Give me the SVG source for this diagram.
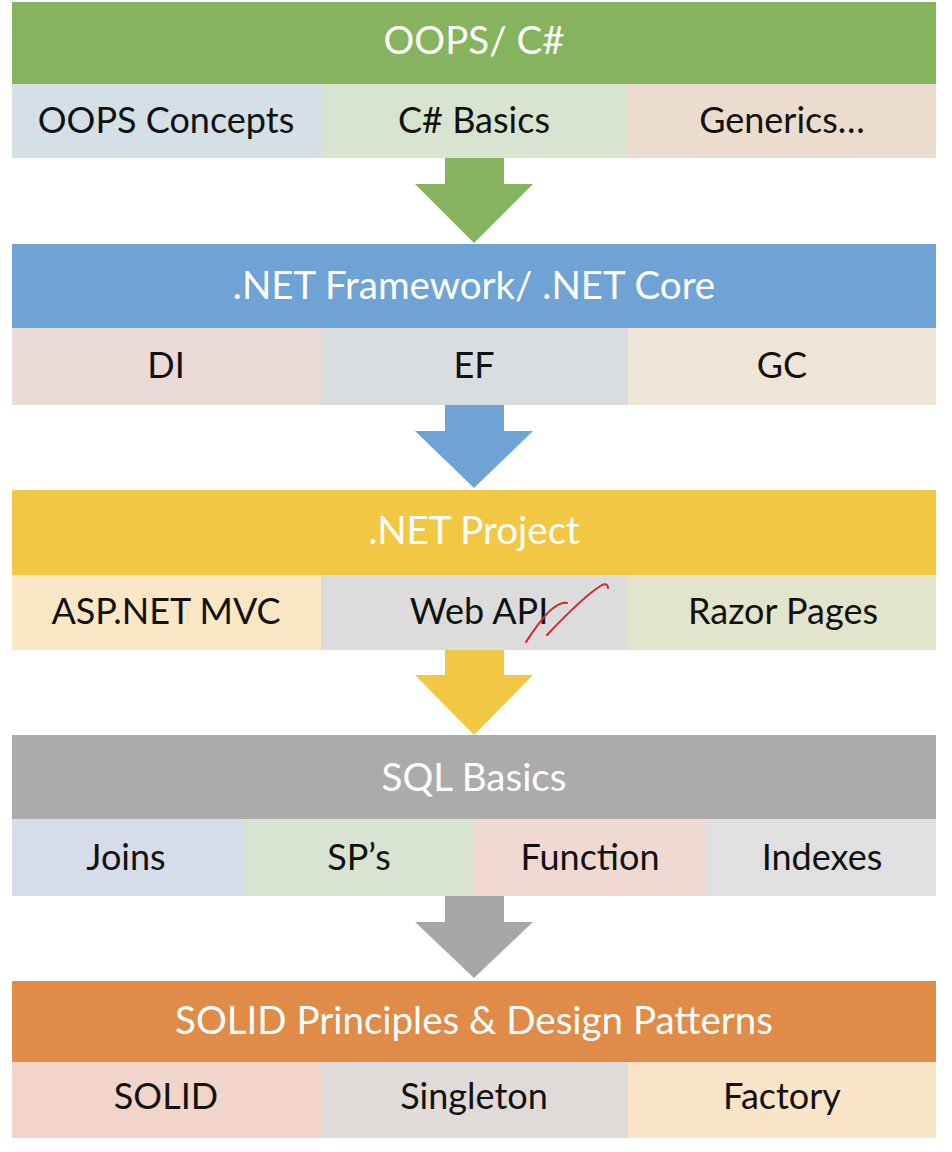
<svg xmlns="http://www.w3.org/2000/svg" width="952" height="1152" viewBox="0 0 952 1152">
<style>
.hd{font-family:Lato,"Open Sans","Liberation Sans",sans-serif;font-size:38.5px;fill:#ffffff;text-anchor:middle}
.sb{font-family:Lato,"Open Sans","Liberation Sans",sans-serif;font-size:36px;fill:#111111;text-anchor:middle}
.mark{fill:none;stroke:#d0262e;stroke-width:2;stroke-linecap:round;stroke-linejoin:round}
</style>
<rect x="0" y="0" width="952" height="1152" fill="#ffffff"/>
<g id="connectors">
  <polygon id="arrow1" points="445,158 504,158 504,184 533,184 474,243 415,184 445,184" fill="#86b35d"/>
  <polygon id="arrow2" points="445,405 504,405 504,431 533,431 474,488 415,431 445,431" fill="#6fa3d6"/>
  <polygon id="arrow3" points="445,650 504,650 504,675 533,675 474,735 415,675 445,675" fill="#f2c744"/>
  <polygon id="arrow4" points="445,896 504,896 504,922 533,922 474,978 415,922 445,922" fill="#a7a7a7"/>
</g>
<g id="band1">
  <g id="oops-header"><rect x="12" y="2" width="924" height="82" fill="#86b35d"/><text class="hd" x="474" y="54">OOPS/ C#</text></g>
  <g id="oops-concepts"><rect x="12" y="84" width="309" height="74" fill="#d5e0e6"/><text class="sb" x="166" y="133">OOPS Concepts</text></g>
  <g id="csharp-basics"><rect x="321" y="84" width="307" height="74" fill="#d9e4d0"/><text class="sb" x="474" y="133">C# Basics</text></g>
  <g id="generics"><rect x="628" y="84" width="308" height="74" fill="#ecdccd"/><text class="sb" x="782" y="133">Generics…</text></g>
</g>
<g id="band2">
  <g id="net-header"><rect x="12" y="244" width="924" height="84" fill="#6fa3d6"/><text class="hd" x="474" y="299">.NET Framework/ .NET Core</text></g>
  <g id="di"><rect x="12" y="328" width="309" height="77" fill="#ebdad7"/><text class="sb" x="166" y="378">DI</text></g>
  <g id="ef"><rect x="321" y="328" width="307" height="77" fill="#dadde0"/><text class="sb" x="474" y="378">EF</text></g>
  <g id="gc"><rect x="628" y="328" width="308" height="77" fill="#efe5d6"/><text class="sb" x="782" y="378">GC</text></g>
</g>
<g id="band3">
  <g id="project-header"><rect x="12" y="490" width="924" height="85" fill="#f2c744"/><text class="hd" x="474" y="544">.NET Project</text></g>
  <g id="mvc"><rect x="12" y="575" width="309" height="75" fill="#fbe7c6"/><text class="sb" x="166" y="624">ASP.NET MVC</text></g>
  <g id="webapi"><rect x="321" y="575" width="307" height="75" fill="#dcdcdc"/><text class="sb" x="479" y="624">Web API</text>
    <path class="mark" d="M526,642 C534,630 543,616 552,609 C558,604 564,602 567,603"/>
    <path class="mark" d="M547,635 C563,618 584,596 602,585 C606,583 608,585 608,588"/>
  </g>
  <g id="razor"><rect x="628" y="575" width="308" height="75" fill="#e2e5cc"/><text class="sb" x="783" y="624">Razor Pages</text></g>
</g>
<g id="band4">
  <g id="sql-header"><rect x="12" y="735" width="924" height="84" fill="#ababab"/><text class="hd" x="474" y="791">SQL Basics</text></g>
  <g id="joins"><rect x="12" y="819" width="231" height="77" fill="#d6dcea"/><text class="sb" x="126" y="870">Joins</text></g>
  <g id="sps"><rect x="243" y="819" width="231" height="77" fill="#d9e3d2"/><text class="sb" x="359" y="870">SP’s</text></g>
  <g id="function"><rect x="474" y="819" width="231" height="77" fill="#f0d9d2"/><text class="sb" x="590" y="870">Function</text></g>
  <g id="indexes"><rect x="705" y="819" width="231" height="77" fill="#e0e0e0"/><text class="sb" x="822" y="870">Indexes</text></g>
</g>
<g id="band5">
  <g id="solid-header"><rect x="12" y="981" width="924" height="81" fill="#e08b47"/><text class="hd" x="474" y="1034">SOLID Principles &amp; Design Patterns</text></g>
  <g id="solid"><rect x="12" y="1062" width="309" height="76" fill="#f2d5ca"/><text class="sb" x="166" y="1109">SOLID</text></g>
  <g id="singleton"><rect x="321" y="1062" width="307" height="76" fill="#e0dbd8"/><text class="sb" x="474" y="1109">Singleton</text></g>
  <g id="factory"><rect x="628" y="1062" width="308" height="76" fill="#f9e4c8"/><text class="sb" x="782" y="1109">Factory</text></g>
</g>
</svg>
